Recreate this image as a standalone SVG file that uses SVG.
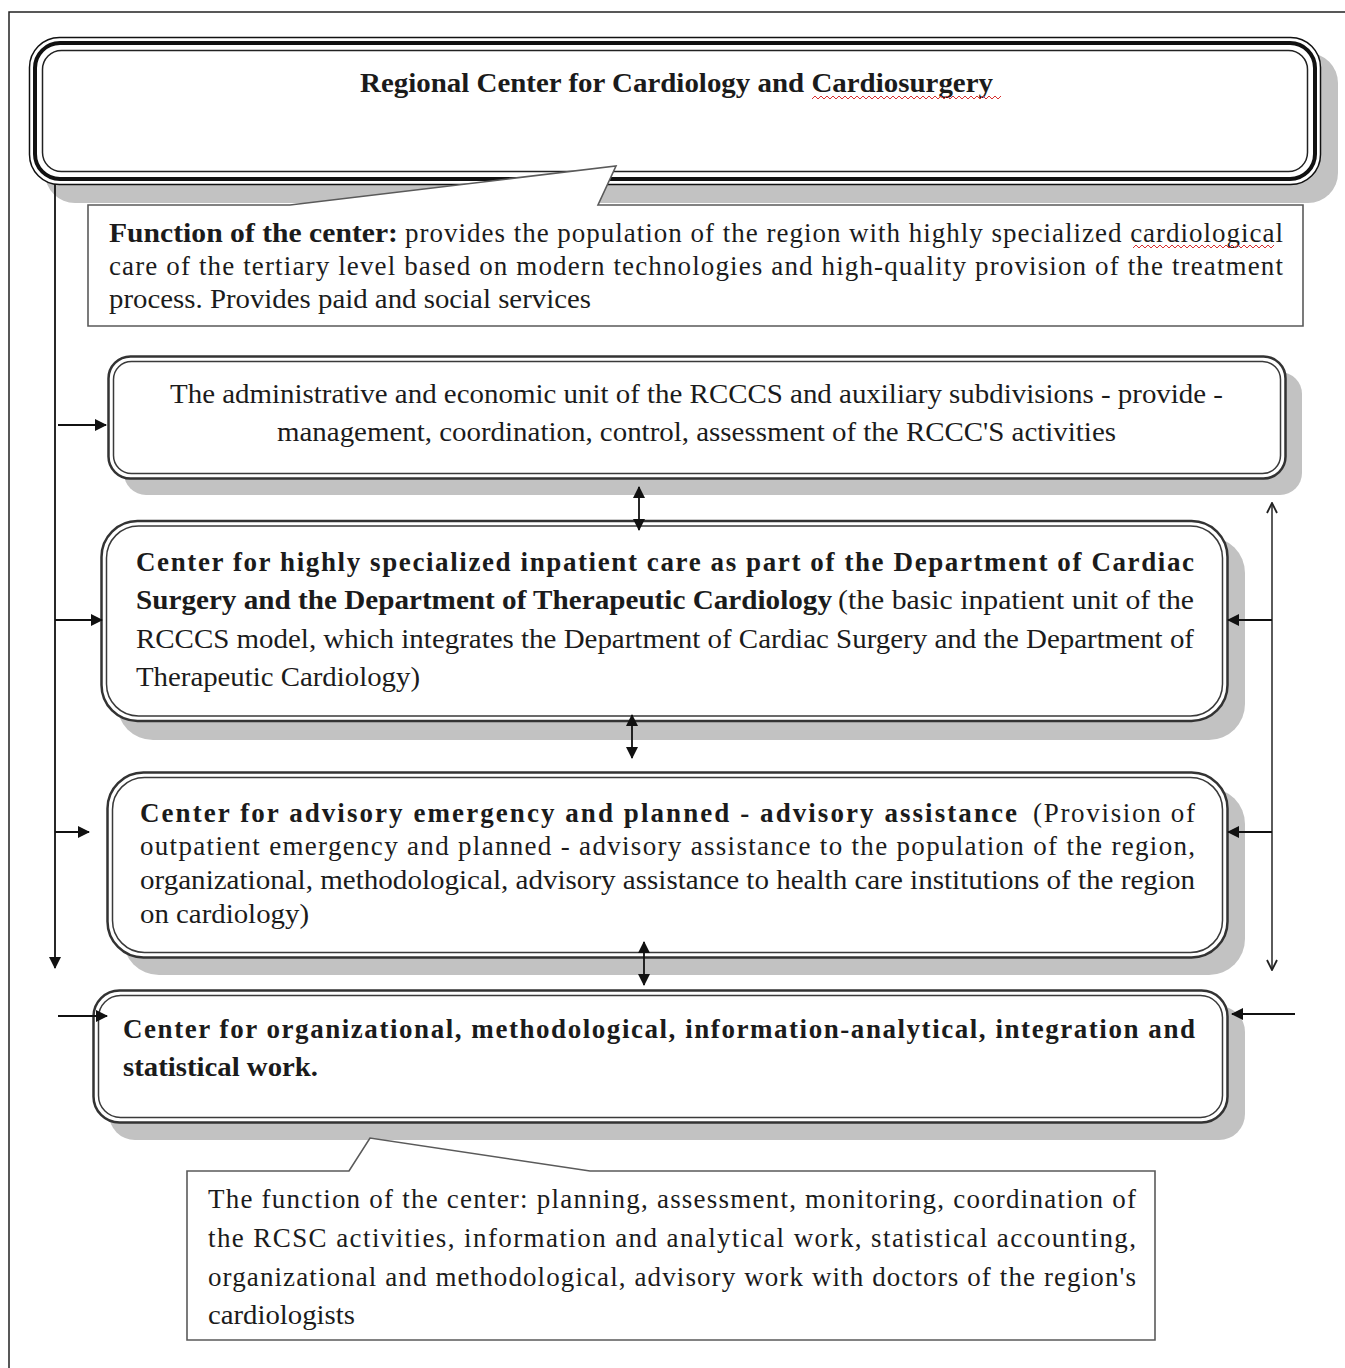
<svg xmlns="http://www.w3.org/2000/svg" width="1345" height="1368" viewBox="0 0 1345 1368">
<defs>
<style>
.t{font-family:"Liberation Serif","DejaVu Serif",serif;font-size:27px;fill:#1b1b1b}
.b{font-weight:bold}
.sh{fill:#c2c2c2}
.bx{fill:#fff;stroke:#333;stroke-width:2.5}
.bi{fill:none;stroke:#3a3a3a;stroke-width:1.5}
.co{fill:#fff;stroke:#5a5a5a;stroke-width:1.6}
.ln{fill:none;stroke:#111;stroke-width:1.8}
.ln2{fill:none;stroke:#333;stroke-width:1.6}
.sq{fill:none;stroke:#d83030;stroke-width:1}
</style>
<marker id="ah" viewBox="0 0 12 12" refX="11" refY="6" markerWidth="13" markerHeight="12" orient="auto-start-reverse" markerUnits="userSpaceOnUse">
<path d="M0,0 L12,6 L0,12 Z" fill="#111"/>
</marker>
<marker id="ao" viewBox="0 0 12 12" refX="11" refY="6" markerWidth="12" markerHeight="12" orient="auto-start-reverse" markerUnits="userSpaceOnUse">
<path d="M1,1 L11,6 L1,11" fill="none" stroke="#222" stroke-width="1.8"/>
</marker>
</defs>
<rect width="1345" height="1368" fill="#fff"/>
<path d="M9,1368 V12 H1345" fill="none" stroke="#222" stroke-width="1.5"/>

<g id="top-box">
<rect class="sh" x="45" y="53" width="1293" height="150" rx="30"/>
<rect x="29.5" y="37.5" width="1291" height="147" rx="30" fill="#fff" stroke="#111" stroke-width="1.5"/>
<rect x="35" y="43" width="1280" height="136" rx="25" fill="none" stroke="#111" stroke-width="4"/>
<rect x="42.5" y="50.5" width="1265" height="121" rx="19" fill="none" stroke="#222" stroke-width="1.5"/>
<text class="t b" x="360" y="92" textLength="633" lengthAdjust="spacingAndGlyphs">Regional Center for Cardiology and Cardiosurgery</text>
<path class="sq" d="M812,99 l3,-3 l3,3 l3,-3 l3,3 l3,-3 l3,3 l3,-3 l3,3 l3,-3 l3,3 l3,-3 l3,3 l3,-3 l3,3 l3,-3 l3,3 l3,-3 l3,3 l3,-3 l3,3 l3,-3 l3,3 l3,-3 l3,3 l3,-3 l3,3 l3,-3 l3,3 l3,-3 l3,3 l3,-3 l3,3 l3,-3 l3,3 l3,-3 l3,3 l3,-3 l3,3 l3,-3 l3,3 l3,-3 l3,3 l3,-3 l3,3 l3,-3 l3,3 l3,-3 l3,3 l3,-3 l3,3 l3,-3 l3,3 l3,-3 l3,3 l3,-3 l3,3 l3,-3 l3,3 l3,-3 l3,3 l3,-3 l3,3 l3,-3"/>
</g>

<g id="callout-top">
<path class="co" d="M88,205 H290 L616,166 L598,205 H1303 V326 H88 Z"/>
<text class="t b" x="109" y="242" textLength="289" lengthAdjust="spacingAndGlyphs">Function of the center:</text>
<text class="t" x="405" y="242" textLength="878" lengthAdjust="spacing">provides the population of the region with highly specialized cardiological</text>
<text class="t" x="109" y="275" textLength="1174" lengthAdjust="spacing">care of the tertiary level based on modern technologies and high-quality provision of the treatment</text>
<text class="t" x="109" y="308" textLength="482" lengthAdjust="spacingAndGlyphs">process. Provides paid and social services</text>
<path class="sq" d="M1133,248 l3,-3 l3,3 l3,-3 l3,3 l3,-3 l3,3 l3,-3 l3,3 l3,-3 l3,3 l3,-3 l3,3 l3,-3 l3,3 l3,-3 l3,3 l3,-3 l3,3 l3,-3 l3,3 l3,-3 l3,3 l3,-3 l3,3 l3,-3 l3,3 l3,-3 l3,3 l3,-3 l3,3 l3,-3 l3,3 l3,-3 l3,3 l3,-3 l3,3 l3,-3 l3,3 l3,-3 l3,3 l3,-3 l3,3 l3,-3 l3,3 l3,-3 l3,3 l3,-3"/>
</g>

<g id="admin-unit">
<rect class="sh" x="124" y="372" width="1178" height="123" rx="22"/>
<rect class="bx" x="108.5" y="356.5" width="1177" height="122" rx="22"/>
<rect class="bi" x="113.5" y="361.5" width="1167" height="112" rx="18"/>
<text class="t" x="170" y="403" textLength="1053" lengthAdjust="spacingAndGlyphs">The administrative and economic unit of the RCCCS and auxiliary subdivisions - provide -</text>
<text class="t" x="277" y="441" textLength="839" lengthAdjust="spacingAndGlyphs">management, coordination, control, assessment of the RCCC'S activities</text>
</g>

<g id="inpatient-center">
<rect class="sh" x="117" y="537" width="1128" height="203" rx="36"/>
<rect class="bx" x="101.5" y="521" width="1126" height="200" rx="36"/>
<rect class="bi" x="106.5" y="526" width="1116" height="190" rx="32"/>
<text class="t b" x="136" y="571" textLength="1058" lengthAdjust="spacing">Center for highly specialized inpatient care as part of the Department of Cardiac</text>
<text class="t b" x="136" y="609" textLength="696" lengthAdjust="spacingAndGlyphs">Surgery and the Department of Therapeutic Cardiology</text>
<text class="t" x="838" y="609" textLength="356" lengthAdjust="spacingAndGlyphs">(the basic inpatient unit of the</text>
<text class="t" x="136" y="648" textLength="1058" lengthAdjust="spacingAndGlyphs">RCCCS model, which integrates the Department of Cardiac Surgery and the Department of</text>
<text class="t" x="136" y="686" textLength="284" lengthAdjust="spacingAndGlyphs">Therapeutic Cardiology)</text>
</g>

<g id="advisory-center">
<rect class="sh" x="123" y="788" width="1122" height="187" rx="36"/>
<rect class="bx" x="107.5" y="772.5" width="1120" height="185" rx="36"/>
<rect class="bi" x="112.5" y="777.5" width="1110" height="175" rx="32"/>
<text class="t b" x="140" y="822" textLength="877" lengthAdjust="spacing">Center for advisory emergency and planned - advisory assistance</text>
<text class="t" x="1033" y="822" textLength="162" lengthAdjust="spacing">(Provision of</text>
<text class="t" x="140" y="855" textLength="1055" lengthAdjust="spacing">outpatient emergency and planned - advisory assistance to the population of the region,</text>
<text class="t" x="140" y="889" textLength="1055" lengthAdjust="spacingAndGlyphs">organizational, methodological, advisory assistance to health care institutions of the region</text>
<text class="t" x="140" y="923" textLength="169" lengthAdjust="spacingAndGlyphs">on cardiology)</text>
</g>

<g id="organizational-center">
<rect class="sh" x="109" y="1006" width="1136" height="134" rx="26"/>
<rect class="bx" x="93.5" y="990.5" width="1134" height="132" rx="26"/>
<rect class="bi" x="98.5" y="995.5" width="1124" height="122" rx="22"/>
<text class="t b" x="123" y="1038" textLength="1072" lengthAdjust="spacing">Center for organizational, methodological, information-analytical, integration and</text>
<text class="t b" x="123" y="1076" textLength="195" lengthAdjust="spacingAndGlyphs">statistical work.</text>
</g>

<g id="callout-bottom">
<path class="co" d="M187,1171 H349 L370,1138 L590,1171 H1155 V1340 H187 Z"/>
<text class="t" x="208" y="1208" textLength="928" lengthAdjust="spacing">The function of the center: planning, assessment, monitoring, coordination of</text>
<text class="t" x="208" y="1247" textLength="928" lengthAdjust="spacing">the RCSC activities, information and analytical work, statistical accounting,</text>
<text class="t" x="208" y="1286" textLength="928" lengthAdjust="spacing">organizational and methodological, advisory work with doctors of the region's</text>
<text class="t" x="208" y="1324" textLength="147" lengthAdjust="spacingAndGlyphs">cardiologists</text>
</g>

<g id="connectors">
<line class="ln" x1="55" y1="184" x2="55" y2="968" marker-end="url(#ah)"/>
<line class="ln" x1="58" y1="425" x2="106" y2="425" marker-end="url(#ah)"/>
<line class="ln" x1="55" y1="620" x2="102" y2="620" marker-end="url(#ah)"/>
<line class="ln" x1="55" y1="832" x2="89" y2="832" marker-end="url(#ah)"/>
<line class="ln" x1="58" y1="1016" x2="107" y2="1016" marker-end="url(#ah)"/>
<line class="ln2" x1="1272" y1="503" x2="1272" y2="970" marker-start="url(#ao)" marker-end="url(#ao)"/>
<line class="ln" x1="1272" y1="620" x2="1228" y2="620" marker-end="url(#ah)"/>
<line class="ln" x1="1272" y1="832" x2="1228" y2="832" marker-end="url(#ah)"/>
<line class="ln" x1="1295" y1="1014" x2="1232" y2="1014" marker-end="url(#ah)"/>
<line class="ln" x1="639" y1="487" x2="639" y2="530" marker-start="url(#ah)" marker-end="url(#ah)"/>
<line class="ln" x1="632" y1="715" x2="632" y2="758" marker-start="url(#ah)" marker-end="url(#ah)"/>
<line class="ln" x1="644" y1="942" x2="644" y2="985" marker-start="url(#ah)" marker-end="url(#ah)"/>
</g>
</svg>
